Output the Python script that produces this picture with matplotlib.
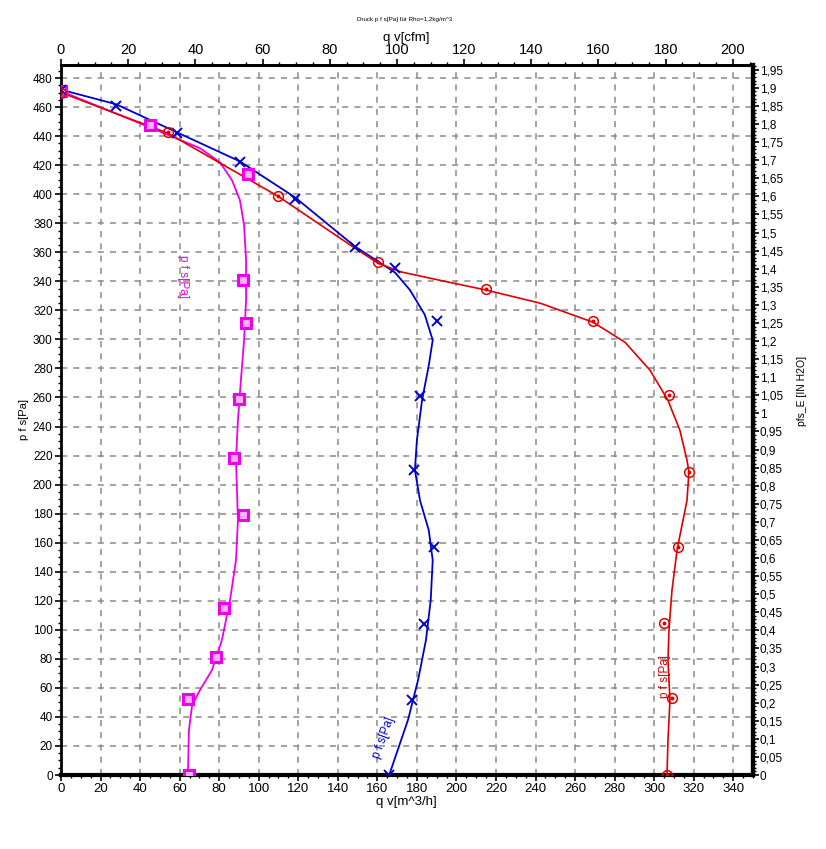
import numpy as np
import matplotlib
matplotlib.use("Agg")
import matplotlib.pyplot as plt
from matplotlib.ticker import MultipleLocator, FuncFormatter, FixedLocator

NARROW = ['Liberation Sans Narrow', 'Liberation Sans', 'DejaVu Sans']
REG = ['Liberation Sans', 'DejaVu Sans']

# Kennlinien (Kurvenverlauf) q v[m^3/h] / p f s[Pa]
mag_q = [0, 45, 70.3, 80.4, 86.5, 90.5, 92.6, 93.6, 93.6, 92.6, 91, 89.5, 88.5,
         89, 89.5, 88.5, 85.5, 81.4, 76.4, 70.3, 66.3, 64.7, 64.2]
mag_p = [471, 446, 431.7, 422, 409.6, 395.9, 378.7, 354.6, 327, 299.5, 272, 244.4,
         216.9, 196, 175.6, 148, 120.5, 93, 72.3, 58.5, 48, 31, 0]

blau_q = [0, 27.8, 58.7, 90.5, 118.4, 148.7, 160, 169, 176.5, 184, 188, 186, 182.6,
          180, 179, 181.6, 186, 188, 187, 184.6, 180.6, 175.5, 166]
blau_p = [472, 462, 442.6, 422.6, 397.8, 364, 354, 346, 334, 317, 299.5, 282, 258,
          230.6, 210, 189, 168.7, 148, 120.5, 93, 65.4, 37.9, 0]

rot_q = [0, 54.1, 109.8, 148.7, 160.3, 172, 186.6, 215, 242.3, 269, 285.3, 297.9,
         307, 313, 316.6, 317.6, 316.6, 313.6, 311.6, 309, 307.5, 307, 308, 307, 306.5]
rot_p = [470, 442, 398.6, 362.8, 352.5, 346.5, 342.2, 334, 325, 311.9, 298, 278.8,
         258, 237.5, 216.9, 208.6, 189, 168.7, 155, 127, 99.8, 79, 51.6, 24, 0]

# Messpunkte
mag_mq = [0, 45, 94.6, 92, 93.6, 90, 87.5, 92, 82.4, 78.4, 64.2, 64.7]
mag_mp = [471, 447.5, 413.8, 340.8, 311, 258.9, 218, 179, 115, 81.6, 52.3, 0]

blau_mq = [0, 27.8, 58.7, 90.5, 118.4, 148.7, 169, 190.2, 181.6, 178.6, 188.7, 183.6, 177.5, 166]
blau_mp = [472, 461, 442, 422, 397, 363.5, 349, 312.6, 261, 210, 157, 104, 51.6, 0]

rot_mq = [0, 54.1, 109.8, 160.3, 215, 269, 307.5, 317.6, 312, 305, 309, 306.5]
rot_mp = [469.5, 442.7, 398.6, 353.2, 334.6, 312.6, 261.6, 208.6, 157, 104.6, 53, 0]

# Achsbeschriftung
q_ticks = list(range(0, 341, 20))
cfm_ticks = list(range(0, 201, 20))
p_ticks = list(range(0, 481, 20))
inh2o_ticks = [i * 0.05 for i in range(40)]

CFM = 1.699      # m^3/h pro cfm
INH2O = 249.09   # Pa pro IN H2O

MAG = '#ee00ee'
BLAU = '#0000cc'
ROT = '#e00000'

fig = plt.figure(figsize=(8.26, 8.49), dpi=100)
ax = fig.add_axes([61 / 826, 1 - 775 / 849, (753 - 61) / 826, (775 - 65) / 849])

ax.set_xlim(0, 350)
ax.set_ylim(0, 489)

# Gitter
ax.xaxis.set_major_locator(FixedLocator(q_ticks))
ax.xaxis.set_minor_locator(MultipleLocator(5))
ax.yaxis.set_major_locator(FixedLocator(p_ticks))
ax.yaxis.set_minor_locator(MultipleLocator(5))
ax.grid(True, which='major', color='#8a8a8a', linestyle=(0, (4, 4)), linewidth=1.1)

# Kurven
ax.plot(mag_q, mag_p, color=MAG, lw=1.3, zorder=3)
ax.plot(blau_q, blau_p, color=BLAU, lw=1.3, zorder=3)
ax.plot(rot_q, rot_p, color=ROT, lw=1.2, zorder=3)

ax.plot(mag_mq, mag_mp, ls='none', marker='s', ms=6.5, mfc='#ffb0ff', mec=MAG, mew=2.2,
        zorder=4)
ax.plot(blau_mq, blau_mp, ls='none', marker='x', ms=7, mec=BLAU, mew=1.4, zorder=4)
ax.plot(rot_mq, rot_mp, ls='none', marker='o', ms=7, mfc='none', mec=ROT, mew=1.1,
        zorder=4)
ax.plot(rot_mq, rot_mp, ls='none', marker='o', ms=1.8, mfc=ROT, mec=ROT, zorder=4)

# Kurvenbeschriftung
ax.text(61.5, 343, 'p f s[Pa]', color=MAG, rotation=-90, fontsize=8.5,
        family=REG, ha='center', va='center')
ax.text(163, 26, 'p f s[Pa]', color=BLAU, rotation=70, fontsize=8.5,
        family=REG, ha='center', va='center')
ax.text(305.5, 68, 'p f s[Pa]', color=ROT, rotation=90, fontsize=8.5,
        family=REG, ha='center', va='center')

# Achsen
for s, w in (('bottom', 3), ('left', 2), ('top', 2), ('right', 3)):
    ax.spines[s].set_linewidth(w)
ax.tick_params(which='major', length=4, width=1.2, pad=2)
ax.tick_params(which='minor', length=2.5, width=1)
for lab in ax.get_xticklabels():
    lab.set_family(NARROW)
    lab.set_fontsize(9.5)
for lab in ax.get_yticklabels():
    lab.set_family(REG)
    lab.set_fontsize(8.5)

top = ax.secondary_xaxis('top', functions=(lambda q: q / CFM, lambda c: c * CFM))
top.xaxis.set_major_locator(FixedLocator(cfm_ticks))
top.xaxis.set_minor_locator(FixedLocator(list(range(0, 206, 5))))
top.tick_params(which='major', length=4, width=1.2, pad=2)
top.tick_params(which='minor', length=2.5, width=1)
top.spines['top'].set_linewidth(2)
for lab in top.get_xticklabels():
    lab.set_family(NARROW)
    lab.set_fontsize(10.5)

right = ax.secondary_yaxis('right', functions=(lambda p: p / INH2O, lambda h: h * INH2O))
right.yaxis.set_major_locator(FixedLocator(inh2o_ticks))
right.yaxis.set_minor_locator(FixedLocator([i * 0.01 for i in range(197)]))
right.yaxis.set_major_formatter(FuncFormatter(
    lambda v, pos: f"{v:.2f}".rstrip('0').rstrip('.').replace('.', ',')))
right.tick_params(which='major', length=4, width=1.2, pad=1)
right.tick_params(which='minor', length=2.5, width=1)
right.spines['right'].set_linewidth(3)
for lab in right.get_yticklabels():
    lab.set_family(REG)
    lab.set_fontsize(8.5)

# Texte
fig.text(405 / 826, 1 - 19 / 849, 'Druck p f s[Pa] für Rho=1,2kg/m^3', fontsize=4.5,
         family=REG, ha='center', va='center')
fig.text(406 / 826, 1 - 38 / 849, 'q v[cfm]', fontsize=9.5, family=NARROW,
         ha='center', va='center')
fig.text(406 / 826, 1 - 802 / 849, 'q v[m^3/h]', fontsize=9.5, family=NARROW,
         ha='center', va='center')
fig.text(24 / 826, 1 - 420 / 849, 'p f s[Pa]', fontsize=8, family=REG, rotation=90,
         ha='center', va='center')
fig.text(802 / 826, 1 - 391 / 849, 'pfs_E [IN H2O]', fontsize=7.5, family=REG,
         rotation=90, ha='center', va='center')

fig.savefig('out.png', dpi=100)
